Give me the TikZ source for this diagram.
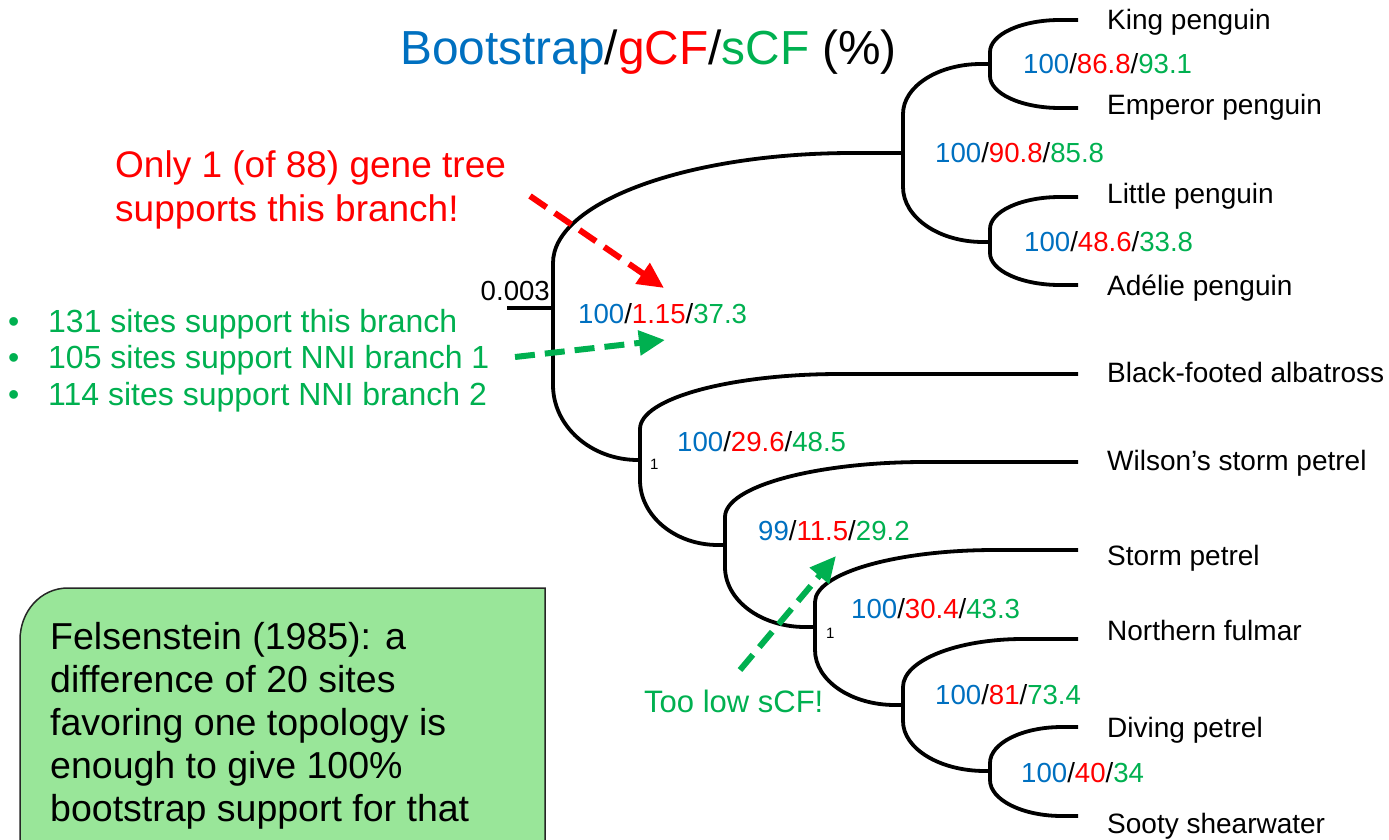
\documentclass[tikz,border=0pt]{standalone}
\usepackage{fontspec}
\setmainfont{Liberation Sans}
\usetikzlibrary{calc,arrows.meta}
\definecolor{mblue}{RGB}{0,112,192}
\definecolor{mred}{RGB}{255,0,0}
\definecolor{mgreen}{RGB}{0,176,80}
\definecolor{boxgreen}{RGB}{153,230,153}
\newcommand{\triple}[3]{\textcolor{mblue}{#1}/\textcolor{mred}{#2}/\textcolor{mgreen}{#3}}
\begin{document}
\begin{tikzpicture}[x=1pt,y=-1pt,
  branch/.style={line width=3.8pt,line join=round},
  clade/.style 2 args={to path={let \p1=(\tikztostart), \p2=(\tikztotarget), \n1={sign(\y2-\y1)} in
     -- (\x1,{\y2-\n1*#2}) .. controls (\x1,{\y2-\n1*0.448*#2}) and ({\x1+0.448*#1},\y2) .. ({\x1+#1},\y2) -- (\tikztotarget)}},
  lab/.style={font=\fontsize{27.6}{32}\selectfont,anchor=base west,inner sep=0pt},
  leaf/.style={font=\fontsize{28}{32}\selectfont,anchor=base west,inner sep=0pt},
  note/.style={anchor=base west,inner sep=0pt},
  darrow/.style={line width=6pt,dash pattern=on 20pt off 10pt,-{Triangle[length=26pt,width=24pt]}},
]
\useasboundingbox (0,0) rectangle (1389,840);
\clip (0,0) rectangle (1389,840);

% ---------- green box ----------
\filldraw[fill=boxgreen,draw=black!85,line width=1.5pt]
  (545,860) -- (545,588) -- (68,588) .. controls (40,588) and (20,612) .. (20,640) -- (20,860);
\node[note,font=\fontsize{37.5}{43}\selectfont,align=left,anchor=north west] (felsen) at (50,622)
  {Felsenstein (1985): a\\difference of 20 sites\\favoring one topology is\\enough to give 100\%\\bootstrap support for that};

% ---------- tree coordinates ----------
\coordinate (stub) at (507,308);
\coordinate (root) at (553,308);
\coordinate (P) at (903,153);
\coordinate (KE) at (990,64);
\coordinate (LA) at (990,242);
\coordinate (Pe) at (640,460);
\coordinate (N99) at (725,545);
\coordinate (N30) at (815,627);
\coordinate (N81) at (903,705);
\coordinate (N40) at (990,771);
\coordinate (tKing) at (1078,20);
\coordinate (tEmp) at (1078,108);
\coordinate (tLit) at (1078,197);
\coordinate (tAde) at (1078,285);
\coordinate (tBFA) at (1078,374);
\coordinate (tWil) at (1078,462);
\coordinate (tSto) at (1078,550);
\coordinate (tFul) at (1078,639);
\coordinate (tDiv) at (1078,727);
\coordinate (tSoo) at (1078,816);

% ---------- branches ----------
\draw[branch] (stub) -- (root);
\draw[branch] (root) to[clade={300}{110}] (P);
\draw[branch] (root) to[clade={85}{75}] (Pe);
\draw[branch] (P) to[clade={78}{50}] (KE);
\draw[branch] (P) to[clade={80}{55}] (LA);
\draw[branch] (KE) to[clade={70}{32}] (tKing);
\draw[branch] (KE) to[clade={70}{32}] (tEmp);
\draw[branch] (LA) to[clade={70}{32}] (tLit);
\draw[branch] (LA) to[clade={70}{32}] (tAde);
\draw[branch] (Pe) to[clade={200}{55}] (tBFA);
\draw[branch] (Pe) to[clade={78}{65}] (N99);
\draw[branch] (N99) to[clade={200}{55}] (tWil);
\draw[branch] (N99) to[clade={80}{60}] (N30);
\draw[branch] (N30) to[clade={180}{52}] (tSto);
\draw[branch] (N30) to[clade={80}{55}] (N81);
\draw[branch] (N81) to[clade={120}{48}] (tFul);
\draw[branch] (N81) to[clade={82}{50}] (N40);
\draw[branch] (N40) to[clade={72}{36}] (tDiv);
\draw[branch] (N40) to[clade={72}{36}] (tSoo);

% ---------- leaf labels ----------
\node[leaf] (lKing) at (1107,30) {King penguin};
\node[leaf] (lEmp) at (1107,115) {Emperor penguin};
\node[leaf] (lLit) at (1107,203) {Little penguin};
\node[leaf] (lAde) at (1107,295) {Adélie penguin};
\node[leaf] (lBFA) at (1107,382) {Black-footed albatross};
\node[leaf] (lWil) at (1107,470) {Wilson’s storm petrel};
\node[leaf] (lSto) at (1107,565) {Storm petrel};
\node[leaf] (lFul) at (1107,640) {Northern fulmar};
\node[leaf] (lDiv) at (1107,737) {Diving petrel};
\node[leaf] (lSoo) at (1107,833) {Sooty shearwater};

% ---------- support labels ----------
\node[lab] (sKE) at (1023,74) {\triple{100}{86.8}{93.1}};
\node[lab] (sP) at (935,162) {\triple{100}{90.8}{85.8}};
\node[lab] (sLA) at (1024,251) {\triple{100}{48.6}{33.8}};
\node[lab] (sRoot) at (578,323) {\triple{100}{1.15}{37.3}};
\node[lab] (sPe) at (677,451) {\triple{100}{29.6}{48.5}};
\node[lab] (s99) at (758,540) {\triple{99}{11.5}{29.2}};
\node[lab] (s30) at (851,618) {\triple{100}{30.4}{43.3}};
\node[lab] (s81) at (935,704) {\triple{100}{81}{73.4}};
\node[lab] (s40) at (1021,782) {\triple{100}{40}{34}};
\node[lab,anchor=base east] (scale) at (550,300) {0.003};
\node[note,font=\fontsize{15}{16}\selectfont] (one1) at (650,469) {1};
\node[note,font=\fontsize{15}{16}\selectfont] (one2) at (826,638) {1};

% ---------- title ----------
\node[note,font=\fontsize{47.8}{52}\selectfont] (title) at (400,65)
  {\textcolor{mblue}{Bootstrap}/\textcolor{mred}{gCF}/\textcolor{mgreen}{sCF} (\%)};

% ---------- annotations ----------
\node[note,font=\fontsize{37}{44}\selectfont,text=mred,align=left,anchor=north west] (redtxt) at (115,150)
  {Only 1 (of 88) gene tree\\supports this branch!};
\node[note,font=\fontsize{32}{37}\selectfont,text=mgreen] (b1) at (48,332) {131 sites support this branch};
\node[note,font=\fontsize{32}{37}\selectfont,text=mgreen] (b2) at (48,368) {105 sites support NNI branch 1};
\node[note,font=\fontsize{32}{37}\selectfont,text=mgreen] (b3) at (48,405) {114 sites support NNI branch 2};
\foreach \yy/\nm in {332/d1,368/d2,405/d3}
  \node[note,font=\fontsize{32}{37}\selectfont,text=mgreen] (\nm) at (8,\yy) {•};
\node[note,font=\fontsize{31}{36}\selectfont,text=mgreen] (toolow) at (644,712) {Too low sCF!};

% ---------- dashed arrows ----------
\coordinate (ra0) at (530,196);
\coordinate (ra1) at (664,288);
\coordinate (ga0) at (515,357);
\coordinate (ga1) at (665,340);
\coordinate (gb0) at (740,670);
\coordinate (gb1) at (836,556);
\draw[darrow,mred] (ra0) -- (ra1);
\draw[darrow,mgreen] (ga0) -- (ga1);
\draw[darrow,mgreen] (gb0) -- (gb1);
\end{tikzpicture}
\end{document}
